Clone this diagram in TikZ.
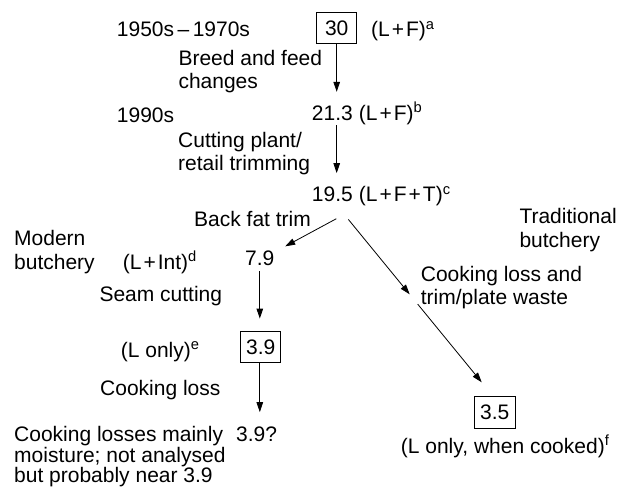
\documentclass[tikz,border=0pt]{standalone}
\usepackage{fontspec}
\setmainfont{Liberation Sans}
\usetikzlibrary{arrows.meta, calc}

\newcommand{\pls}{\kern2pt+\kern2pt}

\tikzset{
  lbl/.style={anchor=base west, inner sep=0pt, align=left},
  valbox/.style={draw, line width=0.8pt, minimum width=40pt, minimum height=30.6pt, inner sep=0pt},
  arr/.style={line width=0.8pt, -{Triangle[length=10pt,width=6.5pt]}},
}

\begin{document}
\begin{tikzpicture}[x=1pt, y=-1pt, font=\fontsize{21}{23}\selectfont]
\useasboundingbox (0,0) rectangle (626,491);

% dates
\node[lbl] (y50) at (116.7,36.7) {1950s\,--\,1970s};
\node[lbl] (y90) at (116.7,122.7) {1990s};

% values down the chain
\node[valbox] (n30) at (336.7,28) {30};
\node[lbl] (n213) at (311.7,120) {21.3};
\node[lbl] (n195) at (311.7,201.7) {19.5};
\node[lbl] (n79) at (245,265.5) {7.9};
\node[valbox] (n39) at (260.7,347) {3.9};
\node[lbl] (n39q) at (236,441.7) {3.9?};
\node[valbox, minimum width=40.7pt, minimum height=31.6pt] (n35) at (494.7,412.5) {3.5};

% what each value is made of
\node[lbl] (fa) at (371,36.7) {(L\pls F)\textsuperscript{a}};
\node[lbl] (fb) at ([xshift=5.8pt]n213.base east) {(L\pls F)\textsuperscript{b}};
\node[lbl] (fc) at ([xshift=5.8pt]n195.base east) {(L\pls F\pls T)\textsuperscript{c}};
\node[lbl] (fd) at (122.7,269) {(L\pls Int)\textsuperscript{d}};
\node[lbl] (fe) at (120.7,357) {(L only)\textsuperscript{e}};
\node[lbl] (ff) at (400.7,453.3) {(L only, when cooked)\textsuperscript{f}};

% steps (multi-line nodes sit on their last line)
\node[lbl] (sbreed) at (178.3,88.7) {Breed and feed\\changes};
\node[lbl] (scut) at (178,170.7) {Cutting plant/\\retail trimming};
\node[lbl] (sback) at (194,226.7) {Back fat trim};
\node[lbl] (sseam) at (99.3,301) {Seam cutting};
\node[lbl] (scook) at (100,395) {Cooking loss};
\node[lbl] (strim) at (420.7,304.5) {Cooking loss and\\trim/plate waste};

% the two routes
\node[lbl, font=\fontsize{21}{24}\selectfont] (modern) at (14,269) {Modern\\butchery};
\node[lbl, font=\fontsize{21}{24}\selectfont] (trad) at (519.3,247.3) {Traditional\\butchery};
\node[lbl, font=\fontsize{21}{20.5}\selectfont] (note) at (14,482.7) {Cooking losses mainly\\moisture; not analysed\\but probably near 3.9};

\draw[arr, shorten >=13.3pt] (n30.south) -- (n30.south |- n213.north);
\draw[arr, shorten <=5pt, shorten >=13.7pt] (n30 |- n213.south) -- (n30 |- n195.north);
\draw[arr] ([shift={(4,16.6)}]n195.south) -- ([shift={(10.6,-4.3)}]n79.north east);
\draw[arr, shorten <=5.5pt, shorten >=12.7pt] (n79.south) -- (n79.south |- n39.north);
\draw[arr, shorten >=14.7pt] (n79 |- n39.south) -- (n79 |- n39q.north);

% traditional route runs past its label
\coordinate (t0) at ([shift={(16,17.3)}]n195.south);
\coordinate (t1) at ([shift={(-13,-14)}]n35.north);
\draw[arr] (t0) -- ($(t0)!0.46!(t1)$);
\draw[arr] ($(t0)!0.52!(t1)$) -- (t1);

\end{tikzpicture}
\end{document}
